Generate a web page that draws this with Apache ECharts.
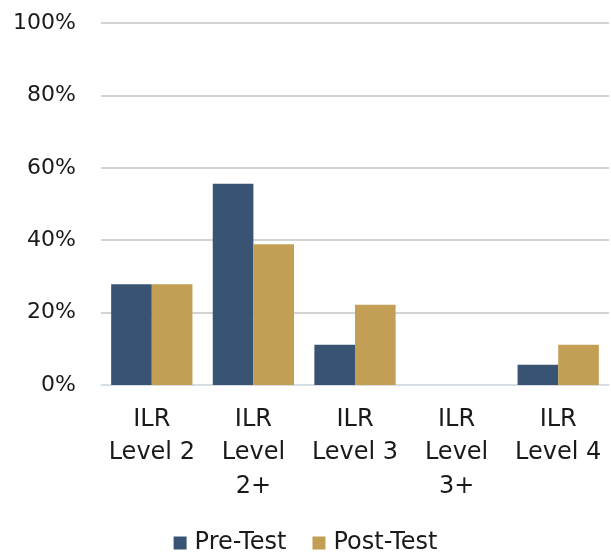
<!DOCTYPE html>
<html>
<head>
<meta charset="utf-8">
<script src="https://cdn.jsdelivr.net/npm/echarts@6/dist/echarts.min.js"></script>
<style>html,body{margin:0;padding:0;background:#fff;}#c{width:611px;height:557px;}</style>
</head>
<body>
<div id="c"></div>
<script>
const categories = ["ILR\nLevel 2", "ILR\nLevel\n2+", "ILR\nLevel 3", "ILR\nLevel\n3+", "ILR\nLevel 4"];
const preTest = [27.8, 55.6, 11.1, 0, 5.6];
const postTest = [27.8, 38.9, 22.2, 0, 11.1];
const seriesNames = ["Pre-Test", "Post-Test"];

const font = "'DejaVu Sans', 'Noto Sans', sans-serif";
const chart = echarts.init(document.getElementById('c'), null, {renderer: 'canvas'});
chart.setOption({
  animation: false,
  backgroundColor: '#ffffff',
  grid: {left: 101, right: 2, top: 23, bottom: 172, containLabel: false},
  legend: {
    data: seriesNames,
    top: 526,
    left: 'center',
    itemWidth: 13, itemHeight: 13, itemGap: 26,
    icon: 'rect',
    textStyle: {fontFamily: font, fontSize: 24, color: '#1a1a1a', padding: [0,0,0,3]}
  },
  xAxis: {
    type: 'category',
    data: categories,
    axisLine: {lineStyle: {color: '#d9e1ec', width: 1.5}},
    axisTick: {show: false},
    axisLabel: {fontFamily: font, fontSize: 24, color: '#1a1a1a', lineHeight: 33.5, margin: 18, interval: 0}
  },
  yAxis: {
    type: 'value',
    min: 0, max: 100, interval: 20,
    axisLine: {show: false},
    axisTick: {show: false},
    splitLine: {lineStyle: {color: '#c4c4c4', width: 1.5}},
    axisLabel: {fontFamily: font, fontSize: 22, color: '#1a1a1a', margin: 25, formatter: '{value}%'}
  },
  series: [
    {name: seriesNames[0], type: 'bar', data: preTest, barGap: '0%', barCategoryGap: '20%',
     itemStyle: {color: '#395472'}},
    {name: seriesNames[1], type: 'bar', data: postTest, barGap: '0%', barCategoryGap: '20%',
     itemStyle: {color: '#c29f55'}}
  ]
});
</script>
</body>
</html>
